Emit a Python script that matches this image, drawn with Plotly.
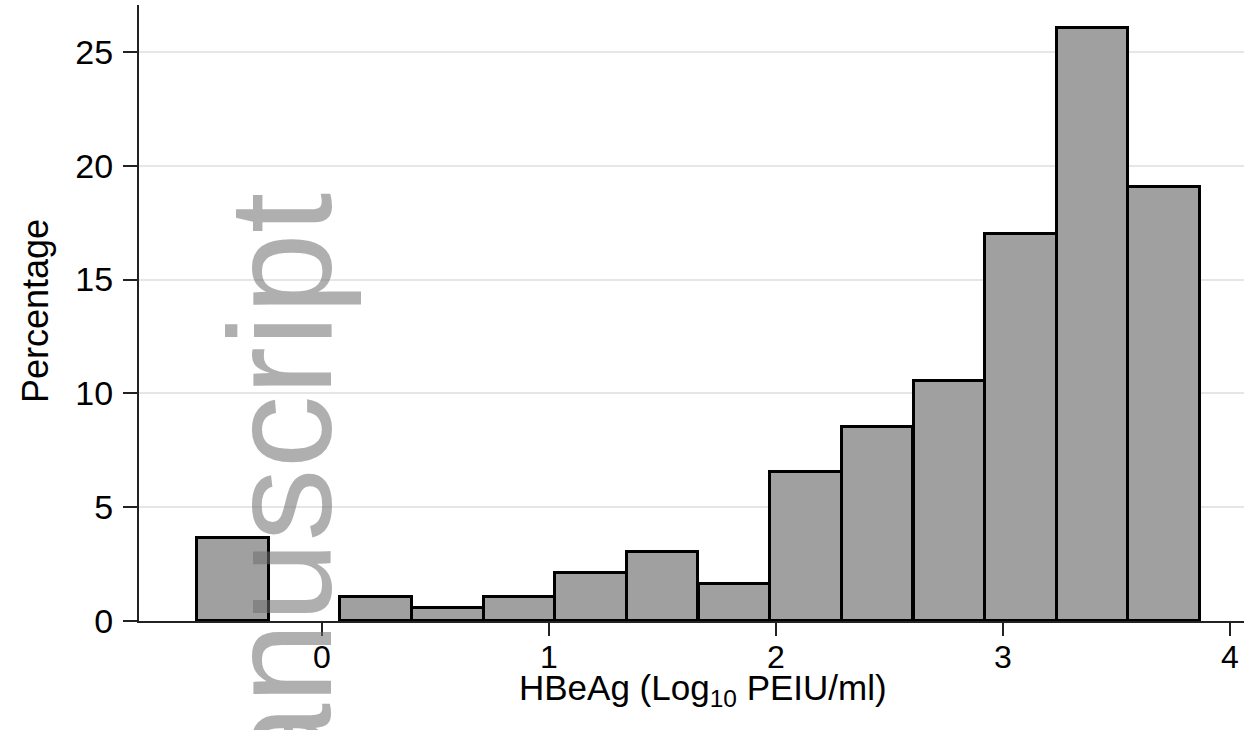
import plotly.graph_objects as go

# Histogram data
bin_centers = [-0.393, 0.239, 0.554, 0.870, 1.186, 1.501, 1.817, 2.132, 2.448, 2.764, 3.079, 3.395, 3.710]
percentages = [3.65, 1.04, 0.58, 1.04, 2.10, 3.04, 1.63, 6.55, 8.54, 10.54, 16.99, 26.04, 19.08]
bin_width = 0.3156

x_ticks = [0, 1, 2, 3, 4]
y_ticks = [0, 5, 10, 15, 20, 25]
x_title = "HBeAg (Log<sub>10</sub> PEIU/ml)"
y_title = "Percentage"
watermark = "anuscript"

FONT = "Liberation Sans, Arial, Helvetica, sans-serif"
L, R, T, B = 139, 1244, 5, 621  # plot area in pixels
PW, PH = R - L, B - T


def px(xp):
    return (xp - L) / PW


def py(yp):
    return (B - yp) / PH


fig = go.Figure()
fig.add_trace(go.Bar(
    x=bin_centers,
    y=percentages,
    width=[bin_width] * len(bin_centers),
    marker=dict(color="#a0a0a0", line=dict(color="#000000", width=3)),
    showlegend=False,
    hoverinfo="skip",
))

fig.update_layout(
    width=1244, height=730,
    margin=dict(l=L, r=1244 - R, t=T, b=730 - B),
    paper_bgcolor="white", plot_bgcolor="white",
    font=dict(family=FONT, size=34, color="#000000"),
    bargap=0,
)

fig.update_xaxes(
    range=[-0.806, 4.062], automargin=False,
    tickvals=x_ticks, ticktext=[str(v) for v in x_ticks],
    showgrid=False, zeroline=False,
    showline=True, linecolor="#222222", linewidth=2,
    ticks="outside", ticklen=13, tickwidth=2, tickcolor="#222222",
    ticklabelstandoff=-6,
    tickfont=dict(size=32),
)
fig.update_yaxes(
    range=[0, 27.06], automargin=False,
    tickvals=y_ticks, ticktext=[str(v) for v in y_ticks],
    showgrid=True, gridcolor="#e6e6e6", gridwidth=2,
    zeroline=False,
    showline=True, linecolor="#222222", linewidth=2,
    ticks="outside", ticklen=14, tickwidth=2, tickcolor="#222222",
    ticklabelstandoff=3,
    tickfont=dict(size=34),
)

# axis titles placed as annotations for exact positioning
fig.add_annotation(
    text=x_title, xref="paper", yref="paper",
    x=px(703), y=py(690), xanchor="center", yanchor="middle",
    showarrow=False, font=dict(family=FONT, size=35, color="#000000"),
)
fig.add_annotation(
    text=y_title, xref="paper", yref="paper",
    x=px(35), y=py(311), xanchor="center", yanchor="middle",
    textangle=-90, showarrow=False,
    font=dict(family=FONT, size=36, color="#000000"),
)

fig.add_annotation(
    text=watermark, xref="paper", yref="paper",
    x=px(280), y=py(191),
    xanchor="center", yanchor="top",
    textangle=-90, showarrow=False,
    font=dict(family=FONT, size=146, color="rgba(110,110,110,0.55)"),
)

fig.write_html(
    "out.html",
    config={"displayModeBar": False},
    post_script="document.body.style.margin='0px';document.body.style.overflow='hidden';",
)
